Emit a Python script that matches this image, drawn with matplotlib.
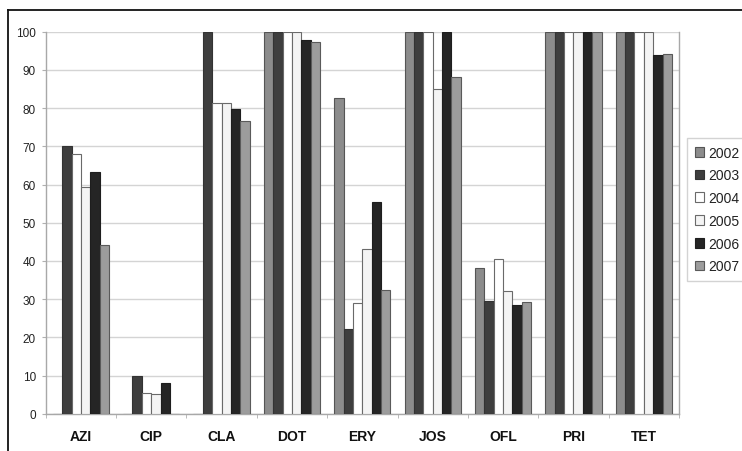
import matplotlib
matplotlib.use("Agg")
import matplotlib.pyplot as plt
import numpy as np
from matplotlib.lines import Line2D
from matplotlib.patches import Patch

plt.rcParams['font.family'] = ['Liberation Sans', 'DejaVu Sans']

categories = ["AZI", "CIP", "CLA", "DOT", "ERY", "JOS", "OFL", "PRI", "TET"]
years = ["2002", "2003", "2004", "2005", "2006", "2007"]
v2002 = [0, 0, 0, 100, 82.6, 100, 38.1, 100, 100]
v2003 = [70.0, 10.0, 100, 100, 22.2, 100, 29.5, 100, 100]
v2004 = [68.1, 5.4, 81.4, 100, 28.9, 100, 40.5, 100, 100]
v2005 = [59.3, 5.2, 81.4, 100, 43.1, 84.9, 32.1, 100, 100]
v2006 = [63.4, 8.0, 79.7, 97.9, 55.3, 100, 28.5, 100, 93.9]
v2007 = [44.2, 0, 76.5, 97.2, 32.5, 88.2, 29.3, 100, 94.2]
series = [v2002, v2003, v2004, v2005, v2006, v2007]
yticks = [0, 10, 20, 30, 40, 50, 60, 70, 80, 90, 100]

colors = ["#8c8c8c", "#3e3e3e", "#ffffff", "#f4f4f4", "#252525", "#9c9c9c"]
edges = ["#555555", "#333333", "#6a6a6a", "#6a6a6a", "#1e1e1e", "#5a5a5a"]

fig = plt.figure(figsize=(7.42, 4.52), dpi=100)
ax = fig.add_axes([45.7 / 742, 1 - 414.7 / 452, (679 - 45.7) / 742, (414.7 - 32.7) / 452])

x = np.arange(len(categories))
w = 1 / 7.5
for j, (vals, c, e) in enumerate(zip(series, colors, edges)):
    ax.bar(x + (j - 2.5) * w, vals, width=w, color=c, edgecolor=e, linewidth=0.8,
           label=years[j], zorder=3)

ax.set_xlim(-0.5, len(categories) - 0.5)
ax.set_ylim(0, 100)
ax.set_yticks(yticks)
ax.set_yticklabels([str(t) for t in yticks], fontsize=8.5, color="#222222")
ax.set_xticks(x)
ax.set_xticklabels(categories, fontsize=10, fontweight="bold", color="#111111")
ax.set_xticks(np.arange(len(categories) + 1) - 0.5, minor=True)
ax.tick_params(axis="x", which="major", length=0, pad=11)
ax.tick_params(axis="x", which="minor", length=3, color="#b0b0b0", direction="out")
ax.tick_params(axis="y", length=3, color="#b0b0b0", pad=4)
ax.yaxis.grid(True, color="#d4d4d4", linewidth=1.0, zorder=0)
ax.set_axisbelow(True)
for s in ["left", "bottom", "right"]:
    ax.spines[s].set_color("#a8a8a8")
    ax.spines[s].set_linewidth(1.0)
ax.spines["top"].set_visible(False)

handles = [Patch(facecolor=c, edgecolor=e, linewidth=0.8) for c, e in zip(colors, edges)]
leg = fig.legend(handles, years, loc="upper left", bbox_to_anchor=(687 / 742, 1 - 139 / 452),
                 fontsize=10, frameon=True, fancybox=False, edgecolor="#c8c8c8",
                 handlelength=0.7, handleheight=0.7, handletextpad=0.25,
                 labelspacing=0.63, borderpad=0.55, borderaxespad=0)
leg.get_frame().set_linewidth(1.0)
for t in leg.get_texts():
    t.set_color("#222222")

# outer frame
fig.add_artist(Line2D([8 / 742, 1.0], [1 - 11 / 452, 1 - 11 / 452], color="#111111", linewidth=1.3,
                      transform=fig.transFigure))
fig.add_artist(Line2D([8 / 742, 8 / 742], [1 - 11 / 452, 0], color="#111111", linewidth=1.3,
                      transform=fig.transFigure))

fig.savefig("out.png", dpi=100)
